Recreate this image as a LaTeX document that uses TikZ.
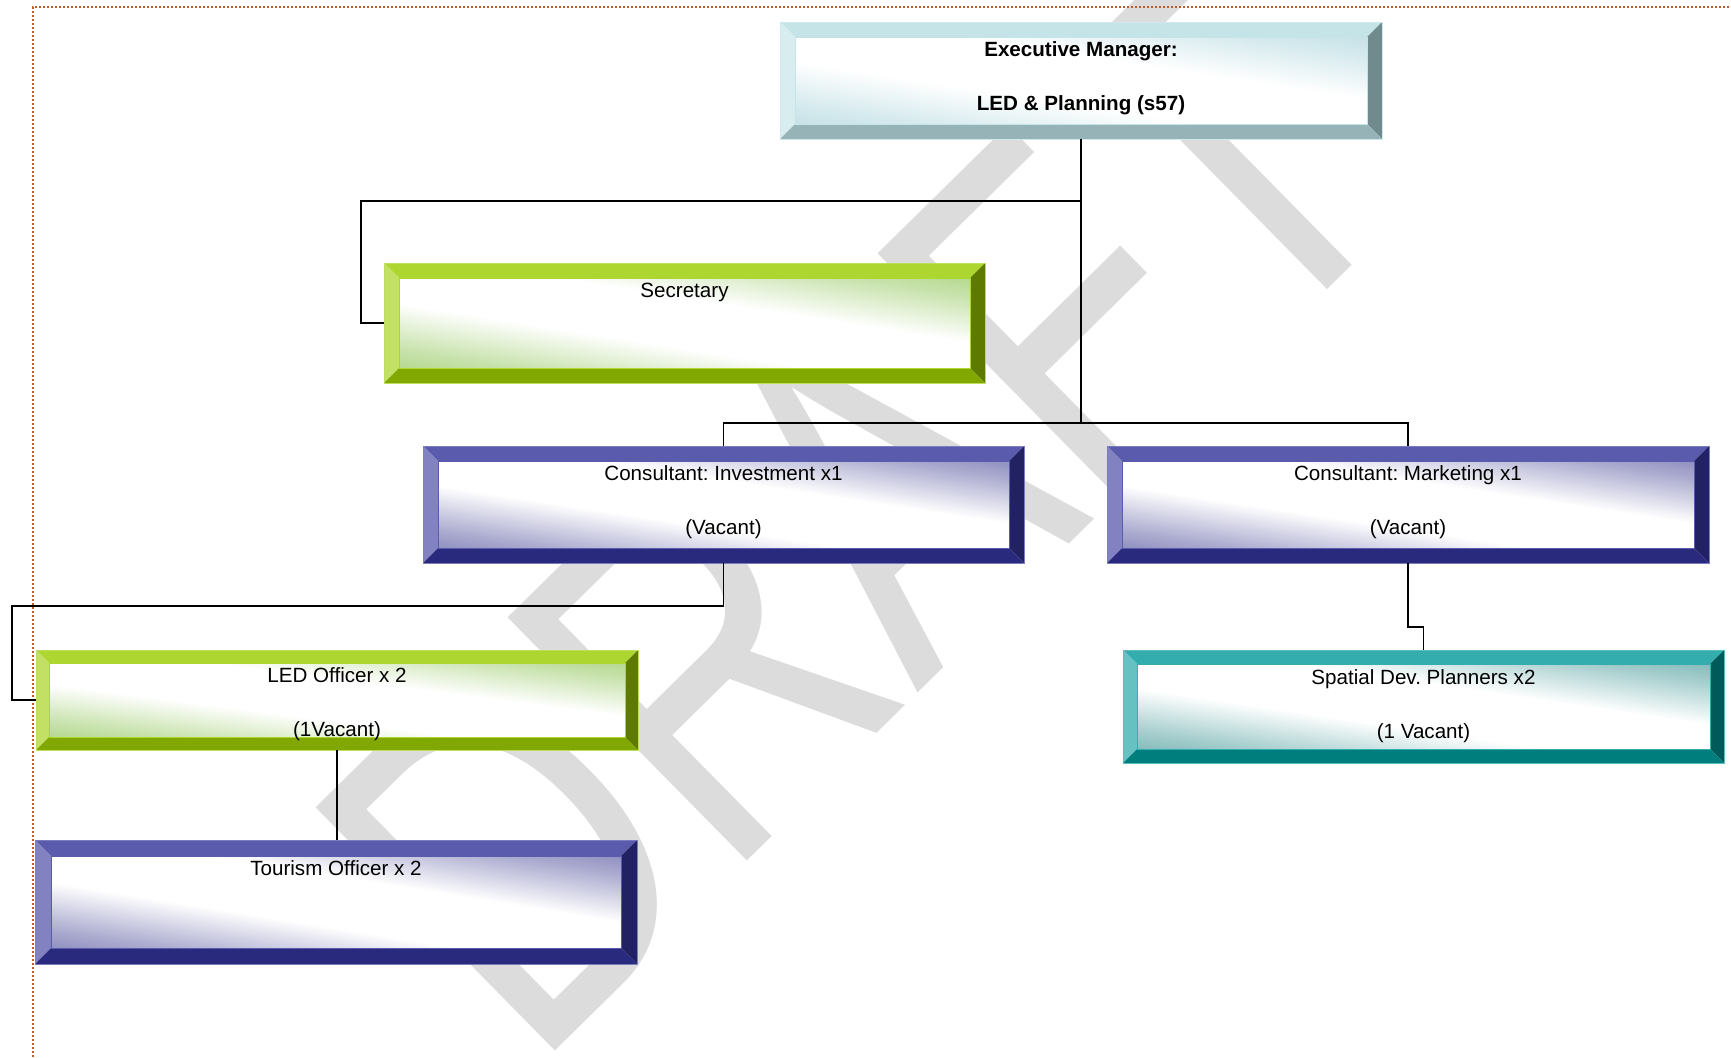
\documentclass[tikz,border=0pt]{standalone}
\usepackage{fontspec}
\setmainfont{Liberation Sans}
\usepackage{graphicx}
\usetikzlibrary{calc}
\frenchspacing

% bevel colour schemes: top / left / right / bottom faces and the tint of the face
\definecolor{bluetop}{RGB}{91,91,173}
\definecolor{blueleft}{RGB}{130,130,195}
\definecolor{blueright}{RGB}{34,34,98}
\definecolor{bluebot}{RGB}{41,41,125}
\definecolor{bluetint}{RGB}{90,90,162}

\definecolor{greentop}{RGB}{173,214,48}
\definecolor{greenleft}{RGB}{194,224,100}
\definecolor{greenright}{RGB}{94,122,0}
\definecolor{greenbot}{RGB}{128,168,0}
\definecolor{greentint}{RGB}{145,198,90}

\definecolor{tealtop}{RGB}{51,173,173}
\definecolor{tealleft}{RGB}{102,194,194}
\definecolor{tealright}{RGB}{0,90,90}
\definecolor{tealbot}{RGB}{0,125,125}
\definecolor{tealtint}{RGB}{75,155,155}

\definecolor{icetop}{RGB}{197,228,232}
\definecolor{iceleft}{RGB}{215,237,240}
\definecolor{iceright}{RGB}{112,138,142}
\definecolor{icebot}{RGB}{150,180,184}
\definecolor{icetint}{RGB}{170,212,220}

\definecolor{pageedge}{RGB}{192,90,40}
\definecolor{wmgray}{RGB}{220,220,220}

% diagonal glow of the box faces
\pgfdeclareverticalshading{blueglow}{100bp}{color(0bp)=(bluetint); color(22bp)=(bluetint!50!white); color(40bp)=(white); color(60bp)=(white); color(78bp)=(bluetint!50!white); color(100bp)=(bluetint)}
\pgfdeclareverticalshading{greenglow}{100bp}{color(0bp)=(greentint); color(22bp)=(greentint!50!white); color(40bp)=(white); color(60bp)=(white); color(78bp)=(greentint!50!white); color(100bp)=(greentint)}
\pgfdeclareverticalshading{tealglow}{100bp}{color(0bp)=(tealtint); color(22bp)=(tealtint!50!white); color(40bp)=(white); color(60bp)=(white); color(78bp)=(tealtint!50!white); color(100bp)=(tealtint)}
\pgfdeclareverticalshading{iceglow}{100bp}{color(0bp)=(icetint); color(22bp)=(icetint!50!white); color(40bp)=(white); color(60bp)=(white); color(78bp)=(icetint!50!white); color(100bp)=(icetint)}

% bevelled box node spanning (x1,y1)-(x2,y2): name, x1, y1, x2, y2, scheme, bevel depth
\newcommand{\orgbox}[7]{%
  \node[inner sep=0pt, outer sep=0pt,
        minimum width={(#4-#2)*0.5pt}, minimum height={(#5-#3)*0.5pt}]
        (#1) at ({(#2+#4)/2},{(#3+#5)/2}) {};
  \fill[#6top] (#1.north west) -- (#1.north east) -- ($(#1.north east)+(-#7,#7)$) -- ($(#1.north west)+(#7,#7)$) -- cycle;
  \fill[#6left] (#1.north west) -- ($(#1.north west)+(#7,#7)$) -- ($(#1.south west)+(#7,-#7)$) -- (#1.south west) -- cycle;
  \fill[#6right] (#1.north east) -- (#1.south east) -- ($(#1.south east)+(-#7,-#7)$) -- ($(#1.north east)+(-#7,#7)$) -- cycle;
  \fill[#6bot] (#1.south west) -- (#1.south east) -- ($(#1.south east)+(-#7,-#7)$) -- ($(#1.south west)+(#7,-#7)$) -- cycle;
  \pgfmathsetmacro\facew{#4-#2-2*#7}%
  \pgfmathsetmacro\faceh{#5-#3-2*#7}%
  \begin{scope}[transform canvas={shift={(#1.center)}, xscale=\facew/\faceh}]
    \shade[shading=#6glow, shading angle=-45] (-\faceh/2,-\faceh/2) rectangle (\faceh/2,\faceh/2);
  \end{scope}
  \draw[#6top, line width=0.4pt] ($(#1.north west)+(#7,#7)$) rectangle ($(#1.south east)+(-#7,-#7)$);
  \draw[#6top!80!white, line width=0.3pt] (#1.north west) rectangle (#1.south east);}

\begin{document}
\begin{tikzpicture}[x=0.5pt, y=-0.5pt,
  conn/.style={line width=0.8pt, black},
  pageline/.style={pageedge, line width=1pt, dash pattern=on 1pt off 1pt},
  lbl/.style={inner sep=0pt, anchor=base, font=\fontsize{10.3}{12}\selectfont},
  lblb/.style={lbl, font=\fontsize{10.3}{12}\selectfont\bfseries}]

\fill[white] (0,0) rectangle (1731,1057);
\useasboundingbox (0,0) rectangle (1731,1057);

% watermark
\begin{scope}
  \clip (0,0) rectangle (1731,1057);
  \node[inner sep=0pt, outer sep=0pt, anchor=base west, rotate=44.55, text=wmgray] (wm)
    at (533,1072) {\scalebox{0.754}[1]{\fontsize{248}{248}\selectfont DRAFT}};
\end{scope}

% page margin marks
\draw[pageline] (33,1057) -- (33,7) -- (1731,7);

% boxes
\orgbox{exec}{780}{22}{1382}{139}{ice}{15}
\orgbox{sec}{384}{263}{985}{383}{green}{15}
\orgbox{consinv}{423}{446}{1024}{563}{blue}{15}
\orgbox{consmkt}{1107}{446}{1709}{563}{blue}{15}
\orgbox{led}{36}{650}{638}{750}{green}{13}
\orgbox{spatial}{1123}{650}{1724}{763}{teal}{14}
\orgbox{tour}{35}{840}{637}{964}{blue}{16}

% connectors
\coordinate (bus) at ($(consinv.north)+(0,-23)$);
\draw[conn] (exec.south) -- (exec.south |- bus);
\draw[conn] (consinv.north) -- (bus) -| (consmkt.north);
\draw[conn] (exec.south) -- ++(0,62) -| ($(sec.west)+(-23,0)$) -- (sec.west);
\draw[conn] (consinv.south) -- ++(0,43) -| ($(led.west)+(-24,0)$) -- (led.west);
\draw[conn] (consmkt.south) -- ++(0,64) -| (spatial.north);
\draw[conn] (led.south) -- (led.south |- tour.north);

% labels
\node[lblb] (exec-a) at (1081,56) {Executive Manager:};
\node[lblb] (exec-b) at (1081,110) {LED \& Planning (s57)};
\node[lbl] (sec-a) at (684.5,297.5) {Secretary};
\node[lbl] (consinv-a) at (723.5,480) {Consultant: Investment x1};
\node[lbl] (consinv-b) at (723.5,534) {(Vacant)};
\node[lbl] (consmkt-a) at (1408,480) {Consultant: Marketing x1};
\node[lbl] (consmkt-b) at (1408,534) {(Vacant)};
\node[lbl] (led-a) at (337,682.5) {LED Officer x 2};
\node[lbl] (led-b) at (337,736) {(1Vacant)};
\node[lbl] (spatial-a) at (1423.5,684) {Spatial Dev. Planners x2};
\node[lbl] (spatial-b) at (1423.5,738) {(1 Vacant)};
\node[lbl] (tour-a) at (336,875.5) {Tourism Officer x 2};

\end{tikzpicture}
\end{document}
